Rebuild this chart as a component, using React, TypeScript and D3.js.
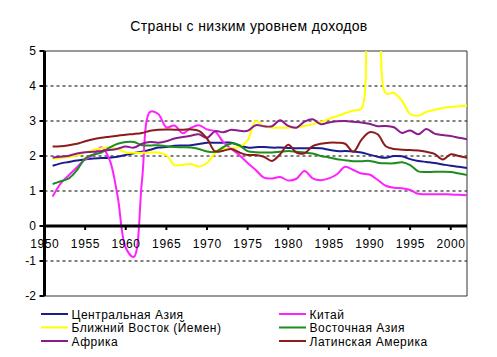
import React from "react";
import * as d3 from "d3";

const years: number[] = d3.range(1951, 2003);

const centralAsia = [1.72,1.79,1.83,1.87,1.90,1.93,1.94,1.95,1.98,2.03,2.08,2.12,2.18,2.24,2.26,2.29,2.30,2.31,2.34,2.38,2.38,2.38,2.38,2.30,2.24,2.25,2.26,2.24,2.24,2.23,2.22,2.22,2.23,2.22,2.18,2.14,2.14,2.13,2.10,2.04,1.98,1.95,2.00,1.99,1.91,1.86,1.83,1.80,1.76,1.72,1.69,1.66];
const china = [0.84,1.22,1.45,1.68,1.90,2.03,2.25,1.90,0.85,-0.62,-0.88,1.30,3.26,3.20,2.82,2.87,2.65,2.80,2.88,2.76,2.70,2.40,2.20,2.02,1.80,1.60,1.38,1.36,1.40,1.30,1.35,1.57,1.36,1.31,1.36,1.48,1.69,1.60,1.50,1.47,1.32,1.15,1.09,1.08,1.03,0.92,0.91,0.91,0.91,0.90,0.89,0.88];
const yemen = [1.92,1.94,1.97,2.01,2.10,2.17,2.22,2.24,2.20,2.10,2.09,2.09,2.10,2.10,2.02,1.74,1.75,1.77,1.70,1.80,2.08,2.19,2.22,2.26,2.45,3.00,2.85,2.81,2.81,2.81,2.82,2.86,2.91,2.97,3.06,3.14,3.22,3.30,3.35,6.8,6.5,3.79,3.80,3.58,3.20,3.15,3.26,3.32,3.37,3.40,3.42,3.44];
const eastAsia = [1.20,1.28,1.36,1.60,1.93,2.04,2.10,2.24,2.35,2.40,2.40,2.31,2.30,2.31,2.28,2.26,2.25,2.24,2.20,2.13,2.12,2.25,2.36,2.30,2.14,2.11,2.10,2.10,2.12,2.14,2.12,2.10,2.07,2.00,1.96,1.91,1.88,1.85,1.85,1.86,1.81,1.79,1.79,1.82,1.74,1.56,1.54,1.55,1.55,1.54,1.50,1.46];
const africa = [1.96,1.98,2.01,2.07,2.11,2.12,2.14,2.17,2.21,2.27,2.24,2.35,2.40,2.38,2.42,2.50,2.54,2.58,2.62,2.52,2.71,2.68,2.75,2.72,2.72,2.88,2.85,2.85,3.02,2.86,2.81,2.98,3.05,2.91,2.96,2.99,3.00,2.98,2.96,2.92,2.85,2.86,2.82,2.66,2.73,2.62,2.77,2.64,2.60,2.57,2.52,2.48];
const latinAmerica = [2.27,2.28,2.31,2.35,2.42,2.48,2.52,2.55,2.58,2.61,2.63,2.66,2.72,2.75,2.76,2.75,2.75,2.76,2.72,2.50,2.13,2.15,2.20,2.10,2.03,2.03,1.98,1.86,2.05,2.32,2.10,2.08,2.28,2.35,2.38,2.38,2.35,2.12,2.46,2.68,2.62,2.28,2.20,2.18,2.17,2.16,2.12,2.06,1.90,2.05,2.00,1.95];

const seriesNames = ["Центральная Азия","Китай","Ближний Восток (Йемен)","Восточная Азия","Африка","Латинская Америка"];
const seriesColors = ["#1c1c8c","#ff22ff","#ffff00","#1e8c1e","#8c1c8c","#8c1c1c"];
const seriesValues = [centralAsia, china, yemen, eastAsia, africa, latinAmerica];

const yTicks = [-2,-1,0,1,2,3,4,5];
const xTickYears = [1950,1955,1960,1965,1970,1975,1980,1985,1990,1995,2000];
const title = "Страны с низким уровнем доходов";

export default function App() {
  const W = 497, H = 357;
  const x = d3.scaleLinear().domain([1950, 2002]).range([44.5, 467]);
  const y = d3.scaleLinear().domain([-2, 5]).range([296, 51]);
  const line = d3.line<number>()
    .x((_, i) => x(years[i]))
    .y((d) => y(d))
    .curve(d3.curveCatmullRom.alpha(0.5));
  const font = "'Liberation Sans', Arial, sans-serif";
  const legendPos = [
    [41, 314], [279, 314],
    [41, 327.5], [279, 327.5],
    [41, 341], [279, 341],
  ];
  return (
    <svg width={W} height={H} style={{ position: "absolute", left: 0, top: 0 }} fontFamily={font}>
      <rect x={0} y={0} width={W} height={H} fill="#fff" />
      <defs>
        <clipPath id="plot">
          <rect x={x(1950)} y={y(5)} width={x(2002) - x(1950)} height={y(-2) - y(5)} />
        </clipPath>
      </defs>
      <text x={249} y={31} textAnchor="middle" fontSize={14} letterSpacing={0.35} fill="#000">{title}</text>
      {/* gridlines */}
      {yTicks.filter(t => t !== 0 && t !== 5 && t !== -2).map(t => (
        <line key={t} x1={x(1950)} x2={x(2002)} y1={y(t)} y2={y(t)} stroke="#000" strokeWidth={1} strokeDasharray="3,3" />
      ))}
      {/* plot border */}
      <line x1={x(1950)} x2={x(2002)} y1={y(5)} y2={y(5)} stroke="#333" strokeWidth={1} />
      <line x1={x(1950)} x2={x(2002)} y1={y(-2)} y2={y(-2)} stroke="#333" strokeWidth={1} />
      <line x1={x(2002)} x2={x(2002)} y1={y(5)} y2={y(-2)} stroke="#333" strokeWidth={1} />
      {/* series */}
      <g clipPath="url(#plot)">
        {seriesValues.map((vals, i) => (
          <path key={i} d={line(vals) || ""} fill="none" stroke={seriesColors[i]} strokeWidth={2} strokeLinejoin="round" />
        ))}
      </g>
      {/* x axis */}
      <line x1={x(1950)} x2={x(2002)} y1={y(0)} y2={y(0)} stroke="#000" strokeWidth={3} />
      {xTickYears.map(yr => (
        <g key={yr}>
          <line x1={x(yr)} x2={x(yr)} y1={y(0)} y2={y(0) + 4} stroke="#000" strokeWidth={2} />
          <text x={x(yr) + 0.3} y={248} textAnchor="middle" fontSize={12} letterSpacing={0.6} fill="#000">{yr}</text>
        </g>
      ))}
      {/* y axis */}
      <line x1={x(1950)} x2={x(1950)} y1={y(5)} y2={y(-2)} stroke="#000" strokeWidth={3} />
      {yTicks.map(t => (
        <g key={t}>
          <line x1={x(1950) - 5} x2={x(1950)} y1={y(t)} y2={y(t)} stroke="#000" strokeWidth={2} />
          <text x={36} y={y(t) + 4} textAnchor="end" fontSize={12} fill="#000">{t}</text>
        </g>
      ))}
      {/* legend */}
      {seriesNames.map((n, i) => (
        <g key={n}>
          <line x1={legendPos[i][0]} x2={legendPos[i][0] + 27} y1={legendPos[i][1]} y2={legendPos[i][1]} stroke={seriesColors[i]} strokeWidth={2} />
          <text x={legendPos[i][0] + 30.5} y={legendPos[i][1] + 4.5} fontSize={12} letterSpacing={0.5} fill="#000">{n}</text>
        </g>
      ))}
    </svg>
  );
}
